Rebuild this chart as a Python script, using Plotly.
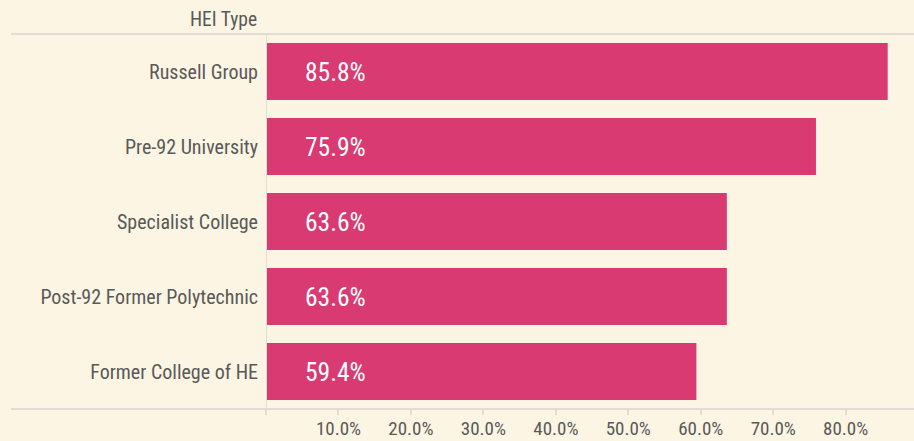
import plotly.graph_objects as go

# HEI types and their share (fraction)
hei_types = ["Russell Group", "Pre-92 University", "Specialist College",
             "Post-92 Former Polytechnic", "Former College of HE"]
shares = [0.858, 0.759, 0.636, 0.636, 0.594]
tick_values = [0.0, 0.1, 0.2, 0.3, 0.4, 0.5, 0.6, 0.7, 0.8]
tick_labels = ["", "10.0%", "20.0%", "30.0%", "40.0%", "50.0%", "60.0%", "70.0%", "80.0%"]

BG = "#FCF5E3"
BAR = "#D93A71"
TEXT = "#595959"
LINE = "#E2DDD2"
FONT = "Roboto Condensed, Liberation Sans Narrow, Arial Narrow, sans-serif"

W, H = 914, 441
ML, MT, MB = 266, 34, 32

fig = go.Figure(go.Bar(
    x=shares, y=hei_types, orientation="h",
    marker=dict(color=BAR, line=dict(width=0)),
    width=0.76, hoverinfo="skip",
))

# value labels inside the bars, near the start
for cat, v in zip(hei_types, shares):
    fig.add_annotation(x=0, y=cat, xref="x", yref="y", text=f"{v*100:.1f}%",
                       showarrow=False, xanchor="left", xshift=37,
                       font=dict(family=FONT, size=25.5, color="white"))

# axis title above the category labels
fig.add_annotation(xref="paper", yref="paper", x=0, y=1, xanchor="right", yanchor="bottom",
                   xshift=-7, yshift=1, text="HEI Type", showarrow=False,
                   font=dict(family=FONT, size=19.5, color=TEXT))

# full-width rules at top and bottom of the plot area
x0 = -(ML - 11) / (W - ML)
for yy in (0, 1):
    fig.add_shape(type="line", xref="paper", yref="paper", x0=x0, x1=1, y0=yy, y1=yy,
                  line=dict(color=LINE, width=2), layer="below")

fig.update_layout(
    width=W, height=H,
    margin=dict(l=ML, r=0, t=MT, b=MB, autoexpand=False),
    paper_bgcolor=BG, plot_bgcolor=BG,
    showlegend=False, bargap=0.24,
    font=dict(family=FONT, color=TEXT),
    xaxis=dict(range=[0, 0.8943], tickvals=tick_values, ticktext=tick_labels,
               showgrid=False, zeroline=False, showline=False, automargin=False,
               ticks="outside", ticklen=5, tickwidth=1.5, tickcolor=LINE,
               ticklabelstandoff=-3,
               tickfont=dict(family=FONT, size=19, color=TEXT), fixedrange=True),
    yaxis=dict(categoryorder="array", categoryarray=hei_types[::-1],
               showgrid=False, zeroline=False, showline=False, ticks="",
               ticklabelstandoff=7, automargin=False,
               tickfont=dict(family=FONT, size=20, color=TEXT), fixedrange=True),
)

# vertical baseline at zero
fig.add_shape(type="line", xref="x", yref="paper", x0=0, x1=0, y0=0, y1=1,
              line=dict(color=LINE, width=2), layer="above")

fig.write_html("out.html")
